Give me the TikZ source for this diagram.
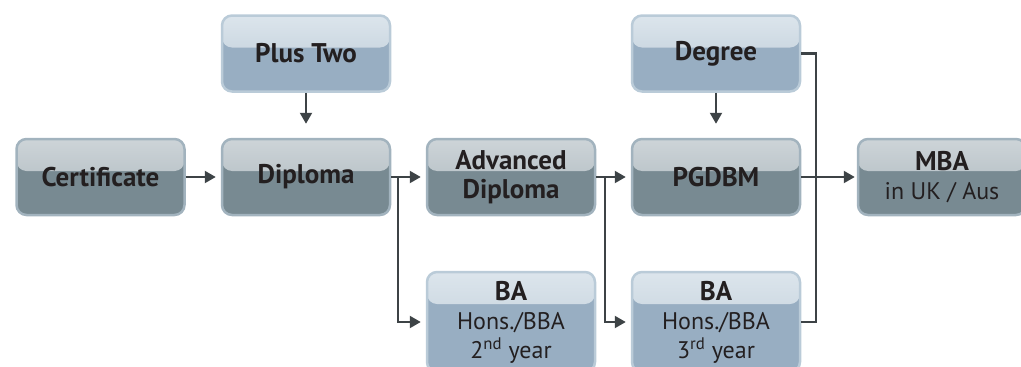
\documentclass[tikz,border=0pt]{standalone}
\usepackage{fontspec}
\setmainfont{PT Sans}
\usetikzlibrary{arrows.meta}

\definecolor{darkfill}{HTML}{788A92}
\definecolor{darkline}{HTML}{A2B3BE}
\definecolor{darkhi}{HTML}{CDD4D8}
\definecolor{darklo}{HTML}{A9B5BB}
\definecolor{lightfill}{HTML}{98AEC2}
\definecolor{lightline}{HTML}{BACBD8}
\definecolor{lighthi}{HTML}{DCE5EC}
\definecolor{lightlo}{HTML}{B8C8D5}
\definecolor{txt}{HTML}{231F20}
\definecolor{arrowcol}{HTML}{3D4346}

\newcommand{\subline}{\fontsize{24}{26}\selectfont\mdseries}

\tikzset{
    boxbase/.style={rounded corners=10pt, minimum width=168pt, minimum height=76pt,
        line width=2.5pt, align=center, text=txt, inner sep=0pt,
        font=\fontsize{27}{29}\selectfont\bfseries},
    darkbox/.style={boxbase, fill=darkfill, draw=darkline,
        path picture={\fill[top color=darkhi, bottom color=darklo]
            (path picture bounding box.north west) rectangle
            ([yshift=-32pt]path picture bounding box.north east);}},
    lightbox/.style={boxbase, fill=lightfill, draw=lightline,
        path picture={\fill[top color=lighthi, bottom color=lightlo]
            (path picture bounding box.north west) rectangle
            ([yshift=-32pt]path picture bounding box.north east);}},
    link/.style={draw=arrowcol, line width=2.2pt},
    arr/.style={link, -{Triangle[length=11pt,width=12pt]}, shorten >=5pt}
}

\begin{document}
\begin{tikzpicture}[x=1pt, y=-1pt]
    \path[use as bounding box, clip] (0,0) rectangle (1021,367);

    \node[darkbox] (cert) at (100.5, 177) {Certificate};
    \node[lightbox] (plus) at (306, 53.5) {Plus Two};
    \node[darkbox] (dip) at (306, 177) {Diploma};
    \node[darkbox] (adv) at (511, 177) {Advanced\\Diploma};
    \node[lightbox, minimum height=100pt] (ba2) at (511, 322) {BA\\{\subline Hons./BBA}\\{\subline 2\textsuperscript{nd} year}};
    \node[lightbox] (deg) at (716, 53.5) {Degree};
    \node[darkbox] (pg) at (716, 177) {PGDBM};
    \node[lightbox, minimum height=100pt] (ba3) at (716, 322) {BA\\{\subline Hons./BBA}\\{\subline 3\textsuperscript{rd} year}};
    \node[darkbox] (mba) at (942, 177) {MBA\\{\subline in UK / Aus}};

    \coordinate (j1) at (398, 177);
    \coordinate (j2) at (605, 177);
    \coordinate (j3) at (816, 177);

    \draw[arr] (cert) -- (dip);
    \draw[arr, shorten >=14pt] (plus) -- (dip);
    \draw[arr] (dip) -- (adv);
    \draw[arr] (j1) |- (ba2.west);
    \draw[arr] (adv) -- (j2) -- (pg);
    \draw[arr] (j2) |- (ba3.west);
    \draw[arr, shorten >=14pt] (deg) -- (pg);
    \draw[link] (deg.east) -| (j3) |- (ba3.east);
    \draw[arr, shorten >=2pt] (pg) -- (mba);
\end{tikzpicture}
\end{document}
